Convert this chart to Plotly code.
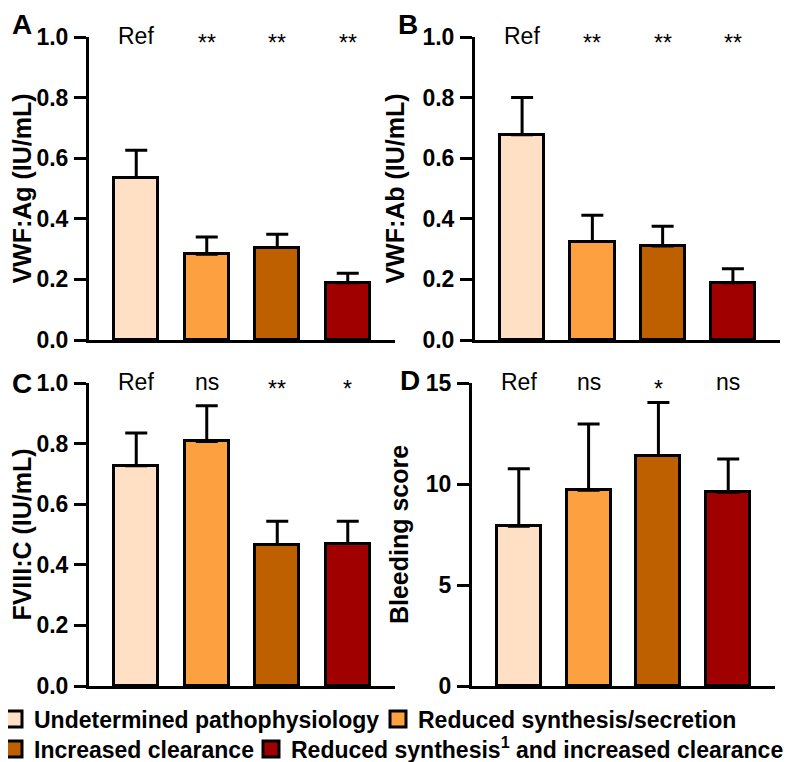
import plotly.graph_objects as go

groups = ["Undetermined pathophysiology", "Reduced synthesis/secretion",
          "Increased clearance", "Reduced synthesis<sup>1</sup> and increased clearance"]
colors = ["#FFE0C4", "#FCA040", "#BF6000", "#A00000"]
cats = [0, 1, 2, 3]

vwf_ag = [0.536, 0.283, 0.305, 0.189]
vwf_ag_err = [0.090, 0.057, 0.044, 0.031]
vwf_ab = [0.677, 0.325, 0.310, 0.189]
vwf_ab_err = [0.123, 0.087, 0.065, 0.046]
fviii_c = [0.727, 0.807, 0.467, 0.470]
fviii_c_err = [0.108, 0.118, 0.077, 0.074]
bleeding = [7.91, 9.69, 11.41, 9.59]
bleeding_err = [2.84, 3.28, 2.63, 1.65]

sig_a = ["Ref", "**", "**", "**"]
sig_b = ["Ref", "**", "**", "**"]
sig_c = ["Ref", "ns", "**", "*"]
sig_d = ["Ref", "ns", "*", "ns"]

panels = [
    dict(letter="A", vals=vwf_ag, errs=vwf_ag_err, sig=sig_a, title="VWF:Ag (IU/mL)",
         ymax=1.0, dtick=0.2, fmt=".1f", xd=[81, 387], yd=[29, 332], lx=13.5, ly=16),
    dict(letter="B", vals=vwf_ab, errs=vwf_ab_err, sig=sig_b, title="VWF:Ab (IU/mL)",
         ymax=1.0, dtick=0.2, fmt=".1f", xd=[467, 772], yd=[29, 332], lx=400, ly=16),
    dict(letter="C", vals=fviii_c, errs=fviii_c_err, sig=sig_c, title="FVIII:C (IU/mL)",
         ymax=1.0, dtick=0.2, fmt=".1f", xd=[81, 387], yd=[375, 678], lx=13.5, ly=375),
    dict(letter="D", vals=bleeding, errs=bleeding_err, sig=sig_d, title="Bleeding score",
         ymax=15, dtick=5, fmt="d", xd=[464, 767], yd=[375, 678], lx=402, ly=372),
]

# legend placement (px): text start x, row centre y
legend_pos = [(35, 711), (419, 711), (35, 741), (292, 741)]

W, H = 800, 762
FONT = "Liberation Sans, Arial, sans-serif"
fig = go.Figure()
annotations = []
layout = {}

for p_i, p in enumerate(panels):
    n = "" if p_i == 0 else str(p_i + 1)
    xa, ya = "x" + n, "y" + n
    for k in cats:
        fig.add_trace(go.Bar(
            x=[cats[k]], y=[p["vals"][k]], xaxis=xa, yaxis=ya,
            name=groups[k], legendgroup=str(k), showlegend=False,
            width=0.63,
            marker=dict(color=colors[k], line=dict(color="black", width=3)),
            error_y=dict(type="data", symmetric=False, array=[p["errs"][k]], arrayminus=[0],
                         color="black", thickness=3, width=11),
        ))
        lab = p["sig"][k]
        annotations.append(dict(
            x=cats[k], y=p["ymax"], xref=xa, yref=ya, text=lab, showarrow=False,
            xanchor="center", yanchor="middle",
            yshift=(-6 if "*" in lab else 1),
            font=dict(family=FONT, size=23, color="black"),
        ))
    annotations.append(dict(
        x=p["lx"] / W, y=1 - p["ly"] / H, xref="paper", yref="paper", text=p["letter"],
        showarrow=False, xanchor="center", yanchor="middle",
        font=dict(family=FONT, size=28, color="black", weight="bold"),
    ))
    layout["xaxis" + n] = dict(
        domain=[p["xd"][0] / W, p["xd"][1] / W], range=[-0.67, 3.67], anchor=ya,
        showticklabels=False, ticks="", showline=True, linecolor="black", linewidth=3,
        showgrid=False, zeroline=False, fixedrange=True, automargin=False,
    )
    layout["yaxis" + n] = dict(
        domain=[1 - p["yd"][1] / H, 1 - p["yd"][0] / H], range=[0, p["ymax"]], anchor=xa,
        dtick=p["dtick"], tick0=0, tickformat=p["fmt"], ticks="outside", ticklen=12,
        tickwidth=3, tickcolor="black", showline=True, linecolor="black", linewidth=3,
        showgrid=False, zeroline=False, ticklabelstandoff=1, automargin=False,
        tickfont=dict(family=FONT, size=23, color="black", weight="bold"),
        title=dict(text=p["title"], standoff=11,
                   font=dict(family=FONT, size=25, color="black", weight="bold")),
    )

# legend entries (one legend per entry so each can be placed like the reference)
for k in cats:
    lid = "legend" if k == 0 else "legend" + str(k + 1)
    fig.add_trace(go.Scatter(
        x=[None], y=[None], mode="markers", name=groups[k], legendgroup=str(k),
        showlegend=True, legend=lid,
        marker=dict(symbol="square", size=16, color=colors[k],
                    line=dict(color="black", width=3)),
    ))
    tx, ty = legend_pos[k]
    layout[lid] = dict(
        orientation="h", x=(tx - 49) / W, xanchor="left", y=1 - ty / H, yanchor="middle",
        font=dict(family=FONT, size=23, color="black", weight="bold"),
        bgcolor="rgba(0,0,0,0)", itemsizing="trace", borderwidth=0,
    )

fig.update_layout(
    width=W, height=H, margin=dict(l=0, r=0, t=0, b=0, pad=0, autoexpand=False),
    paper_bgcolor="white", plot_bgcolor="white",
    barmode="overlay", bargap=0,
    annotations=annotations,
    **layout,
)

fig.write_html("out.html")
